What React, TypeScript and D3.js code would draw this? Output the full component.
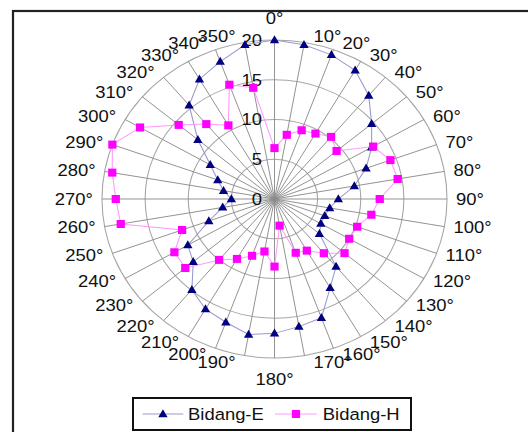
import React from "react";
import * as d3 from "d3";

const angles: number[] = d3.range(0, 360, 10);
const seriesNames = ["Bidang-E", "Bidang-H"];
const bidangE: number[] = [
  20, 19.7, 19.3, 18.7, 17.0, 14.7, 13.0, 11.3, 9.4, 7.4, 6.5, 6.2, 6.2, 6.8, 11.1, 12.9, 15.9, 16.3,
  16.9, 17.3, 16.5, 16.0, 14.9, 12.3, 11.6, 8.1, 6.1, 5.0, 6.0, 7.0, 8.6, 11.6, 15.4, 17.4, 18.4, 19.7,
];
const bidangH: number[] = [
  6.4, 8.2, 9.2, 9.5, 10.2, 9.4, 13.2, 14.3, 14.5, 12.2, 11.4, 10.2, 10.0, 10.6, 8.9, 7.5, 7.2, 3.4,
  8.5, 6.7, 7.6, 8.7, 10.0, 13.5, 13.4, 11.4, 18.1, 18.4, 19.1, 20.0, 18.0, 14.5, 12.3, 10.7, 15.3, 14.2,
];
const radialTicks: number[] = [0, 5, 10, 15, 20];

const W = 528;
const H = 432;
const SX = 1.085;
const CX = 274.5;
const CY = 199;
const R = 159;
const FONT = "'Liberation Sans', Arial, sans-serif";

const colorE = "#000080";
const lineE = "#9a9acc";
const colorH = "#ff00ff";
const lineH = "#ff99ff";

function Tri({ x, y }: { x: number; y: number }) {
  const w = 4.3, h = 8;
  return (
    <path
      d={`M${x},${y - h * 0.6}L${x + w},${y + h * 0.4}L${x - w},${y + h * 0.4}Z`}
      fill={colorE}
    />
  );
}
function Sq({ x, y }: { x: number; y: number }) {
  const w = 3.8, h = 4;
  return <rect x={x - w} y={y - h} width={w * 2} height={h * 2} fill={colorH} />;
}

export default function App() {
  const r = d3.scaleLinear().domain([0, 20]).range([0, R]);
  const rad = (a: number) => (a * Math.PI) / 180;
  const line = d3
    .lineRadial<number>()
    .angle((_, i) => rad(angles[i]))
    .radius((d) => r(d))
    .curve(d3.curveLinearClosed);
  const pt = (a: number, v: number) => [r(v) * Math.sin(rad(a)), -r(v) * Math.cos(rad(a))];

  return (
    <svg
      width={W}
      height={H}
      style={{ position: "absolute", left: 0, top: 0, background: "#fff" }}
      fontFamily={FONT}
    >
      <rect x={13} y={11} width={700} height={600} fill="#fff" stroke="#222" strokeWidth={2.2} />
      <g transform={`translate(${CX},${CY}) scale(${SX},1)`}>
        {radialTicks.slice(1).map((t) => (
          <circle key={t} r={r(t)} fill="none" stroke="#a6a6a6" strokeWidth={1} />
        ))}
        {angles.map((a) => {
          const [x, y] = pt(a, 20);
          return <line key={a} x1={0} y1={0} x2={x} y2={y} stroke="#8c8c8c" strokeWidth={0.9} />;
        })}
        {radialTicks.map((t) => (
          <text
            key={t}
            x={-11.5}
            y={-r(t)}
            textAnchor="end"
            dominantBaseline="central"
            fontSize={17}
            fill="#111"
          >
            {t}
          </text>
        ))}
        {angles.map((a) => {
          const [x, y] = pt(a, 20);
          const s = Math.sin(rad(a));
          const c = Math.cos(rad(a));
          let anchor = "middle";
          let lx = x;
          let ly = y - 6.5 * c;
          if (a === 0) ly = y - 22;
          else if (a === 180) ly = y + 21;
          else if (s > 0) {
            anchor = "start";
            lx = x + 8.3;
          } else {
            anchor = "end";
            lx = x - 8.3;
          }
          return (
            <text
              key={a}
              x={lx}
              y={ly}
              textAnchor={anchor}
              dominantBaseline="central"
              fontSize={17}
              fill="#111"
            >
              {a}°
            </text>
          );
        })}
        <path d={line(bidangE) || ""} fill="none" stroke={lineE} strokeWidth={1} />
        <path d={line(bidangH) || ""} fill="none" stroke={lineH} strokeWidth={1} />
        {bidangE.map((v, i) => {
          const [x, y] = pt(angles[i], v);
          return <Tri key={"e" + i} x={x} y={y} />;
        })}
        {bidangH.map((v, i) => {
          const [x, y] = pt(angles[i], v);
          return <Sq key={"h" + i} x={x} y={y} />;
        })}
      </g>
      <g transform={`translate(133,398)`}>
        <rect x={0} y={0} width={278} height={32} fill="#fff" stroke="#111" strokeWidth={2} />
        <g transform={`scale(${SX},1)`}>
          <line x1={8.9} x2={46.3} y1={16} y2={16} stroke={lineE} strokeWidth={1} />
          <Tri x={27.6} y={16} />
          <text x={50.7} y={16} dominantBaseline="central" fontSize={17} fill="#111">
            {seriesNames[0]}
          </text>
          <line x1={130.9} x2={169.4} y1={16} y2={16} stroke={lineH} strokeWidth={1} />
          <Sq x={150.2} y={16} />
          <text x={174.9} y={16} dominantBaseline="central" fontSize={17} fill="#111">
            {seriesNames[1]}
          </text>
        </g>
      </g>
    </svg>
  );
}
